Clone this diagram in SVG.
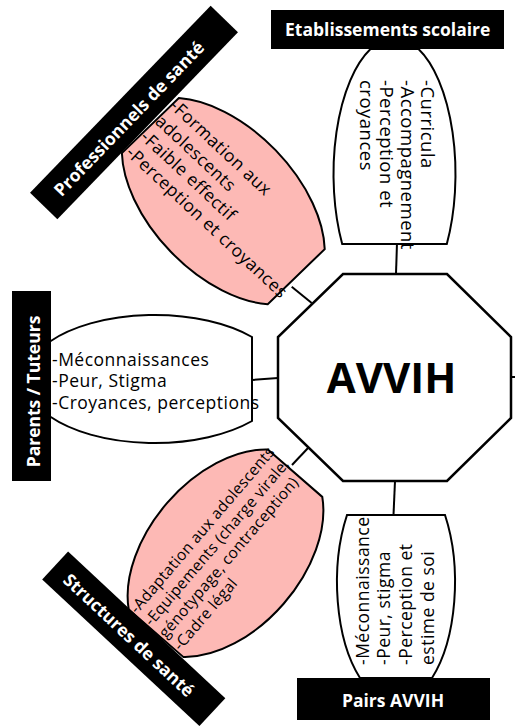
<svg xmlns="http://www.w3.org/2000/svg" width="515" height="726" viewBox="0 0 515 726">
<style>
.shape{stroke:#000;stroke-width:2;stroke-linejoin:miter}
.pink{fill:#FDB9B5}
.white{fill:#fff}
.conn line{stroke:#000;stroke-width:2}
.lbl{fill:#000}
.lbltxt{font-family:"Open Sans","Liberation Sans",sans-serif;font-weight:bold;font-size:17.5px;fill:#fff}
.body{font-family:"Open Sans","Liberation Sans",sans-serif;font-size:17.5px;letter-spacing:0.5px;fill:#000}
.small{font-size:15.5px;letter-spacing:0.3px}
.big{font-size:18.5px;letter-spacing:0.5px}
.center{font-family:"Open Sans","Liberation Sans",sans-serif;font-weight:bold;font-size:42px;fill:#000}
</style>
<rect width="515" height="726" fill="#fff"/>
<g id="connectors" class="conn">
  <line x1="397" y1="243" x2="396" y2="274"/>
  <line x1="291.7" y1="286.7" x2="311.7" y2="303"/>
  <line x1="252" y1="380" x2="278" y2="378"/>
  <line x1="511" y1="377" x2="515" y2="377"/>
  <line x1="292" y1="465" x2="308" y2="448"/>
  <line x1="395" y1="481" x2="393.5" y2="515"/>
</g>
<g id="avvih">
  <polygon class="shape white" style="stroke-width:2.5" points="343,274 447,274 511,337 511,418 447,481 343,481 278,418 278,337"/>
  <text class="center" x="391.5" y="392.7" text-anchor="middle">AVVIH</text>
</g>
<g id="professionnels">
  <path class="shape pink" transform="translate(223.3,201.1) rotate(46)" d="M -105,-39.6 A 125 73 0 0 1 105,-39.6 L 105,39.6 A 125 73 0 0 1 -105,39.6 Z"/>
  <g transform="translate(223.3,201.1) rotate(43)" class="body">
    <text x="-104" y="-31.6">-Formation aux</text>
    <text x="-104" y="-10.2">adolescents</text>
    <text x="-104" y="11.2">-Faible effectif</text>
    <text x="-104" y="32.6">-Perception et croyances</text>
  </g>
  <g transform="translate(134,112.5) rotate(-46)">
    <rect class="lbl" x="-130" y="-19" width="260" height="38"/>
    <text class="lbltxt" x="-8" y="7" text-anchor="middle">Professionnels de santé</text>
  </g>
</g>
<g id="etablissements">
  <path class="shape white" d="M 370.5,49 L 418.5,49 A 61 136 0 0 1 446.8,244 L 342.2,244 A 61 136 0 0 1 370.5,49 Z"/>
  <g transform="translate(421,80) rotate(90)" class="body big">
    <text x="0" y="0">-Curricula</text>
    <text x="0" y="20.5">-Accompagnement</text>
    <text x="0" y="41">-Perception et</text>
    <text x="0" y="61.5">croyances</text>
  </g>
  <rect class="lbl" x="271" y="10" width="233" height="39"/>
  <text class="lbltxt" x="285" y="36">Etablissements scolaire</text>
</g>
<g id="parents">
  <path class="shape white" d="M 50,341.5 A 129 64 0 0 1 252,337 L 252,421 A 129 64 0 0 1 50,416.5 Z"/>
  <g class="body">
    <text x="52" y="365.7">-Méconnaissances</text>
    <text x="52" y="387.3">-Peur, Stigma</text>
    <text x="52" y="408.5">-Croyances, perceptions</text>
  </g>
  <rect class="lbl" x="12" y="291" width="39" height="190"/>
  <text class="lbltxt" transform="translate(40,391.5) rotate(-90)" x="0" y="0" text-anchor="middle">Parents / Tuteurs</text>
</g>
<g id="structures">
  <path class="shape pink" transform="translate(225.5,553.2) rotate(-49)" d="M -106,-36.1 A 120 77 0 0 1 106,-36.1 L 106,36.1 A 120 77 0 0 1 -106,36.1 Z"/>
  <g transform="translate(225.5,553.2) rotate(-49.5)" class="body small">
    <text x="-104" y="-27.5">-Adaptation aux adolescents</text>
    <text x="-104" y="-8.5">-Equipements (charge virale,</text>
    <text x="-104" y="10.5">génotypage, contraception)</text>
    <text x="-104" y="29.5">-Cadre légal</text>
  </g>
  <g transform="translate(133.75,638.8) rotate(43)">
    <rect class="lbl" x="-107.5" y="-19" width="215" height="38"/>
    <text class="lbltxt" x="-6" y="7" text-anchor="middle">Structures de santé</text>
  </g>
</g>
<g id="pairs">
  <path class="shape white" d="M 347,515 L 445,515 A 59 120.8 0 0 1 432,678 L 360,678 A 59 120.8 0 0 1 347,515 Z"/>
  <g transform="translate(368.5,665) rotate(-90)" class="body">
    <text x="0" y="0">-Méconnaissance</text>
    <text x="0" y="21.7">-Peur, stigma</text>
    <text x="0" y="43.4">-Perception et</text>
    <text x="0" y="65.1">estime de soi</text>
  </g>
  <rect class="lbl" x="297" y="678" width="193" height="42"/>
  <text class="lbltxt" x="393" y="707" text-anchor="middle">Pairs AVVIH</text>
</g>
</svg>
